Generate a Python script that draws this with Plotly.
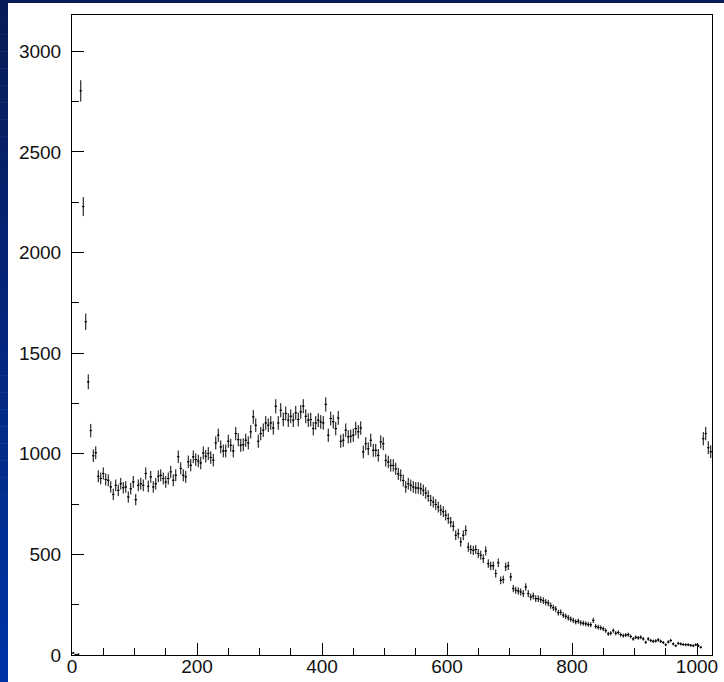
import numpy as np
import plotly.graph_objects as go

# Histogram: 256 bins of width 4 over [0, 1024]
bin_width = 4
bin_low, bin_high = 0, 1024
bin_centers = np.arange(bin_low + bin_width / 2, bin_high, bin_width)

counts = [
    10, 2, 4, 2803, 2228, 1656, 1357, 1115, 990, 1005,
    888, 877, 902, 872, 868, 835, 798, 843, 818, 851,
    831, 835, 785, 826, 860, 772, 843, 851, 843, 902,
    838, 885, 835, 851, 888, 893, 877, 860, 877, 910,
    868, 893, 985, 927, 893, 885, 960, 943, 985, 971,
    964, 954, 1004, 988, 1001, 981, 968, 1054, 1092, 1034,
    1014, 1014, 1062, 1042, 1014, 1100, 1070, 1042, 1045, 1067,
    1054, 1109, 1183, 1142, 1062, 1100, 1117, 1153, 1142, 1153,
    1128, 1236, 1153, 1216, 1170, 1200, 1167, 1186, 1167, 1203,
    1170, 1208, 1236, 1186, 1167, 1170, 1125, 1153, 1167, 1158,
    1153, 1245, 1092, 1175, 1159, 1125, 1178, 1062, 1067, 1117,
    1084, 1087, 1092, 1125, 1109, 1128, 1009, 1050, 1025, 1067,
    1017, 1017, 992, 1059, 1050, 967, 959, 942, 942, 925,
    900, 892, 867, 835, 851, 843, 835, 830, 830, 826,
    818, 805, 790, 768, 760, 748, 735, 720, 712, 695,
    678, 660, 640, 595, 603, 562, 595, 619, 536, 524,
    520, 524, 504, 496, 479, 517, 454, 443, 443, 405,
    458, 371, 375, 438, 443, 388, 330, 322, 318, 313,
    305, 338, 305, 288, 293, 280, 280, 275, 270, 262,
    258, 245, 235, 228, 210, 212, 198, 192, 185, 178,
    172, 165, 168, 160, 158, 155, 152, 150, 172, 142,
    138, 135, 130, 121, 105, 108, 121, 108, 112, 101,
    96, 99, 101, 92, 80, 88, 85, 88, 80, 63,
    80, 72, 68, 70, 75, 68, 62, 51, 65, 72,
    55, 46, 58, 55, 52, 51, 51, 48, 46, 51,
    46, 38, 1075, 1100, 1030, 1010,
]

counts = np.array(counts, dtype=float)
errors = np.sqrt(counts)  # Poisson uncertainty per bin

x_ticks = [0, 200, 400, 600, 800, 1000]
y_ticks = [0, 500, 1000, 1500, 2000, 2500, 3000]

fig = go.Figure()
fig.add_trace(go.Scatter(
    x=bin_centers,
    y=counts,
    mode="markers",
    marker=dict(size=1.5, color="black"),
    error_y=dict(type="data", array=errors, visible=True,
                 color="black", thickness=1, width=0),
    error_x=dict(type="constant", value=bin_width / 2, visible=True,
                 color="black", thickness=1, width=0),
    hoverinfo="x+y",
    showlegend=False,
))

# Slide background: dark-to-bright blue strip on the left, dark band on top
W, H = 724, 682
ml, mr, mt, mb = 72, 12, 15, 27
pw, ph = W - ml - mr, H - mt - mb


def px_x(px):
    return (px - ml) / pw


def px_y(py):
    return (H - mb - py) / ph


shapes = []
steps = 40
top_rgb = np.array([10, 28, 88])
bot_rgb = np.array([0, 52, 165])
for i in range(steps):
    f = i / (steps - 1)
    c = (top_rgb * (1 - f) + bot_rgb * f).astype(int)
    y0 = H * i / steps
    y1 = H * (i + 1) / steps + 0.5
    shapes.append(dict(
        type="rect", xref="paper", yref="paper",
        x0=px_x(0), x1=px_x(8), y0=px_y(y1), y1=px_y(y0),
        fillcolor=f"rgb({c[0]},{c[1]},{c[2]})", line=dict(width=0),
        layer="below",
    ))
shapes.append(dict(
    type="rect", xref="paper", yref="paper",
    x0=px_x(0), x1=px_x(W), y0=px_y(3), y1=px_y(0),
    fillcolor="rgb(10,28,88)", line=dict(width=0), layer="below",
))

axis_font = dict(family="Liberation Sans, Arial, sans-serif", size=19, color="#111111")

fig.update_layout(
    width=W, height=H,
    margin=dict(l=ml, r=mr, t=mt, b=mb, autoexpand=False),
    paper_bgcolor="white",
    plot_bgcolor="white",
    shapes=shapes,
    xaxis=dict(
        range=[bin_low, bin_high],
        tickvals=x_ticks,
        ticktext=[str(v) for v in x_ticks],
        ticks="inside", ticklen=12, tickwidth=1, tickcolor="black",
        minor=dict(dtick=50, ticks="inside", ticklen=7, tickwidth=1, tickcolor="black"),
        showline=True, linecolor="black", linewidth=1, mirror=True,
        showgrid=False, zeroline=False,
        tickfont=axis_font,
        automargin=False,
        ticklabelstandoff=-6,
    ),
    yaxis=dict(
        range=[0, 3180],
        tickvals=y_ticks,
        ticktext=[str(v) for v in y_ticks],
        ticks="inside", ticklen=12, tickwidth=1, tickcolor="black",
        minor=dict(dtick=250, ticks="inside", ticklen=7, tickwidth=1, tickcolor="black"),
        showline=True, linecolor="black", linewidth=1, mirror=True,
        showgrid=False, zeroline=False,
        tickfont=axis_font,
        automargin=False,
        ticklabelstandoff=6,
    ),
)

fig.write_html("out.html")
